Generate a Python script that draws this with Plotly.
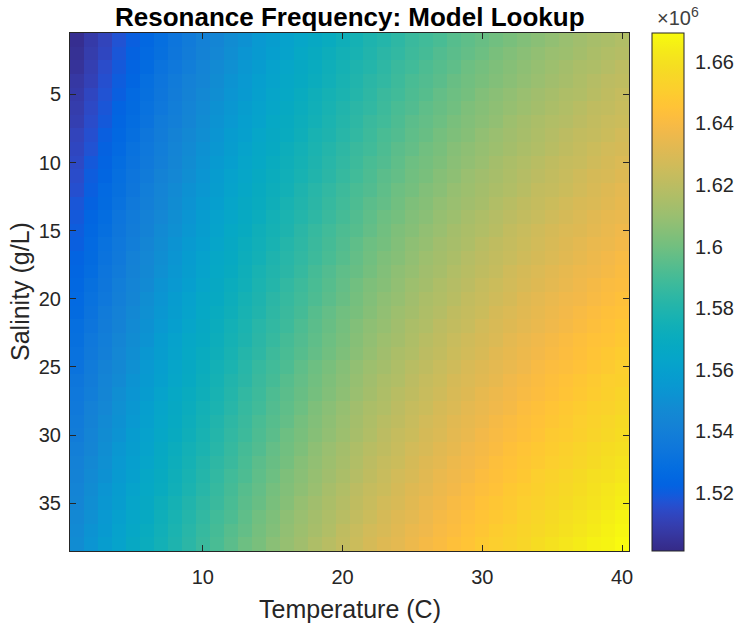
import numpy as np
import plotly.graph_objects as go

# ---------------- data ----------------
temperature_c = list(range(1, 41))          # columns
salinity_gL = list(range(1, 39))            # rows

# resonance frequency in kHz, one list per temperature column (salinity 1..38)
freq_khz_by_temp = [
    [1503,1504,1505,1507,1508,1509,1510,1512,1513,1514,1515,1516,1518,1519,1520,1521,1523,1524,1525,1526,1527,1529,1530,1531,1532,1534,1535,1536,1537,1538,1540,1541,1542,1543,1544,1546,1547,1548],
    [1508,1509,1510,1511,1513,1514,1515,1516,1517,1519,1520,1521,1522,1524,1525,1526,1527,1528,1530,1531,1532,1533,1535,1536,1537,1538,1539,1541,1542,1543,1544,1546,1547,1548,1549,1550,1552,1553],
    [1512,1513,1515,1516,1517,1518,1519,1521,1522,1523,1524,1526,1527,1528,1529,1531,1532,1533,1534,1535,1537,1538,1539,1540,1542,1543,1544,1545,1547,1548,1549,1550,1551,1553,1554,1555,1556,1558],
    [1517,1518,1519,1520,1521,1523,1524,1525,1526,1528,1529,1530,1531,1533,1534,1535,1536,1537,1539,1540,1541,1542,1544,1545,1546,1547,1549,1550,1551,1552,1554,1555,1556,1557,1558,1560,1561,1562],
    [1521,1522,1523,1524,1526,1527,1528,1529,1531,1532,1533,1534,1536,1537,1538,1539,1541,1542,1543,1544,1546,1547,1548,1549,1550,1552,1553,1554,1555,1557,1558,1559,1560,1562,1563,1564,1565,1567],
    [1525,1526,1527,1529,1530,1531,1532,1534,1535,1536,1537,1539,1540,1541,1542,1544,1545,1546,1547,1549,1550,1551,1552,1554,1555,1556,1557,1559,1560,1561,1562,1563,1565,1566,1567,1568,1570,1571],
    [1529,1530,1532,1533,1534,1535,1537,1538,1539,1540,1542,1543,1544,1545,1547,1548,1549,1550,1552,1553,1554,1555,1557,1558,1559,1560,1562,1563,1564,1565,1567,1568,1569,1570,1572,1573,1574,1575],
    [1533,1534,1535,1537,1538,1539,1540,1542,1543,1544,1545,1547,1548,1549,1550,1552,1553,1554,1555,1557,1558,1559,1561,1562,1563,1564,1566,1567,1568,1569,1571,1572,1573,1574,1576,1577,1578,1579],
    [1537,1538,1539,1541,1542,1543,1544,1546,1547,1548,1549,1551,1552,1553,1554,1556,1557,1558,1559,1561,1562,1563,1565,1566,1567,1568,1570,1571,1572,1573,1575,1576,1577,1578,1580,1581,1582,1583],
    [1541,1542,1543,1544,1546,1547,1548,1549,1551,1552,1553,1554,1556,1557,1558,1559,1561,1562,1563,1565,1566,1567,1568,1570,1571,1572,1573,1575,1576,1577,1578,1580,1581,1582,1584,1585,1586,1587],
    [1544,1545,1547,1548,1549,1551,1552,1553,1554,1556,1557,1558,1559,1561,1562,1563,1565,1566,1567,1568,1570,1571,1572,1573,1575,1576,1577,1578,1580,1581,1582,1584,1585,1586,1587,1589,1590,1591],
    [1548,1549,1550,1552,1553,1554,1555,1557,1558,1559,1561,1562,1563,1564,1566,1567,1568,1569,1571,1572,1573,1575,1576,1577,1578,1580,1581,1582,1584,1585,1586,1587,1589,1590,1591,1592,1594,1595],
    [1551,1553,1554,1555,1556,1558,1559,1560,1562,1563,1564,1565,1567,1568,1569,1571,1572,1573,1574,1576,1577,1578,1579,1581,1582,1583,1585,1586,1587,1588,1590,1591,1592,1594,1595,1596,1597,1599],
    [1555,1556,1557,1559,1560,1561,1562,1564,1565,1566,1568,1569,1570,1571,1573,1574,1575,1577,1578,1579,1580,1582,1583,1584,1586,1587,1588,1589,1591,1592,1593,1595,1596,1597,1598,1600,1601,1602],
    [1558,1559,1561,1562,1563,1564,1566,1567,1568,1570,1571,1572,1573,1575,1576,1577,1579,1580,1581,1583,1584,1585,1586,1588,1589,1590,1592,1593,1594,1595,1597,1598,1599,1601,1602,1603,1604,1606],
    [1561,1562,1564,1565,1566,1568,1569,1570,1572,1573,1574,1575,1577,1578,1579,1581,1582,1583,1585,1586,1587,1588,1590,1591,1592,1594,1595,1596,1597,1599,1600,1601,1603,1604,1605,1607,1608,1609],
    [1564,1566,1567,1568,1570,1571,1572,1573,1575,1576,1577,1579,1580,1581,1583,1584,1585,1586,1588,1589,1590,1592,1593,1594,1596,1597,1598,1599,1601,1602,1603,1605,1606,1607,1609,1610,1611,1612],
    [1567,1569,1570,1571,1573,1574,1575,1577,1578,1579,1580,1582,1583,1584,1586,1587,1588,1590,1591,1592,1594,1595,1596,1597,1599,1600,1601,1603,1604,1605,1607,1608,1609,1610,1612,1613,1614,1616],
    [1570,1572,1573,1574,1576,1577,1578,1579,1581,1582,1583,1585,1586,1587,1589,1590,1591,1593,1594,1595,1597,1598,1599,1600,1602,1603,1604,1606,1607,1608,1610,1611,1612,1614,1615,1616,1617,1619],
    [1573,1575,1576,1577,1578,1580,1581,1582,1584,1585,1586,1588,1589,1590,1592,1593,1594,1596,1597,1598,1600,1601,1602,1603,1605,1606,1607,1609,1610,1611,1613,1614,1615,1617,1618,1619,1621,1622],
    [1576,1577,1579,1580,1581,1583,1584,1585,1587,1588,1589,1591,1592,1593,1594,1596,1597,1598,1600,1601,1602,1604,1605,1606,1608,1609,1610,1612,1613,1614,1616,1617,1618,1620,1621,1622,1624,1625],
    [1579,1580,1581,1583,1584,1585,1587,1588,1589,1591,1592,1593,1595,1596,1597,1599,1600,1601,1603,1604,1605,1607,1608,1609,1611,1612,1613,1615,1616,1617,1619,1620,1621,1623,1624,1625,1627,1628],
    [1581,1583,1584,1585,1587,1588,1589,1591,1592,1593,1595,1596,1597,1599,1600,1601,1603,1604,1605,1607,1608,1609,1611,1612,1613,1615,1616,1617,1619,1620,1621,1623,1624,1625,1627,1628,1629,1631],
    [1584,1585,1587,1588,1589,1591,1592,1593,1595,1596,1597,1599,1600,1601,1603,1604,1605,1607,1608,1609,1611,1612,1613,1615,1616,1617,1619,1620,1621,1623,1624,1625,1627,1628,1629,1631,1632,1633],
    [1587,1588,1589,1591,1592,1593,1595,1596,1597,1599,1600,1601,1603,1604,1605,1607,1608,1609,1611,1612,1613,1615,1616,1617,1619,1620,1621,1623,1624,1625,1627,1628,1629,1631,1632,1633,1635,1636],
    [1589,1590,1592,1593,1594,1596,1597,1598,1600,1601,1602,1604,1605,1606,1608,1609,1611,1612,1613,1615,1616,1617,1619,1620,1621,1623,1624,1625,1627,1628,1629,1631,1632,1633,1635,1636,1637,1639],
    [1591,1593,1594,1595,1597,1598,1599,1601,1602,1603,1605,1606,1608,1609,1610,1612,1613,1614,1616,1617,1618,1620,1621,1622,1624,1625,1626,1628,1629,1630,1632,1633,1635,1636,1637,1639,1640,1641],
    [1594,1595,1596,1598,1599,1600,1602,1603,1605,1606,1607,1609,1610,1611,1613,1614,1615,1617,1618,1619,1621,1622,1624,1625,1626,1628,1629,1630,1632,1633,1634,1636,1637,1638,1640,1641,1642,1644],
    [1596,1597,1599,1600,1601,1603,1604,1605,1607,1608,1610,1611,1612,1614,1615,1616,1618,1619,1620,1622,1623,1624,1626,1627,1629,1630,1631,1633,1634,1635,1637,1638,1639,1641,1642,1644,1645,1646],
    [1598,1599,1601,1602,1604,1605,1606,1608,1609,1610,1612,1613,1614,1616,1617,1619,1620,1621,1623,1624,1625,1627,1628,1629,1631,1632,1634,1635,1636,1638,1639,1640,1642,1643,1645,1646,1647,1649],
    [1600,1602,1603,1604,1606,1607,1608,1610,1611,1613,1614,1615,1617,1618,1619,1621,1622,1623,1625,1626,1628,1629,1630,1632,1633,1634,1636,1637,1639,1640,1641,1643,1644,1645,1647,1648,1650,1651],
    [1602,1604,1605,1606,1608,1609,1611,1612,1613,1615,1616,1617,1619,1620,1622,1623,1624,1626,1627,1628,1630,1631,1633,1634,1635,1637,1638,1639,1641,1642,1644,1645,1646,1648,1649,1650,1652,1653],
    [1604,1606,1607,1608,1610,1611,1613,1614,1615,1617,1618,1619,1621,1622,1624,1625,1626,1628,1629,1631,1632,1633,1635,1636,1637,1639,1640,1642,1643,1644,1646,1647,1648,1650,1651,1653,1654,1655],
    [1606,1608,1609,1610,1612,1613,1615,1616,1617,1619,1620,1622,1623,1624,1626,1627,1628,1630,1631,1633,1634,1635,1637,1638,1640,1641,1642,1644,1645,1646,1648,1649,1651,1652,1653,1655,1656,1658],
    [1608,1610,1611,1612,1614,1615,1617,1618,1619,1621,1622,1623,1625,1626,1628,1629,1630,1632,1633,1635,1636,1637,1639,1640,1642,1643,1644,1646,1647,1649,1650,1651,1653,1654,1655,1657,1658,1660],
    [1610,1611,1613,1614,1616,1617,1618,1620,1621,1623,1624,1625,1627,1628,1630,1631,1632,1634,1635,1637,1638,1639,1641,1642,1643,1645,1646,1648,1649,1650,1652,1653,1655,1656,1657,1659,1660,1662],
    [1612,1613,1615,1616,1617,1619,1620,1622,1623,1624,1626,1627,1629,1630,1631,1633,1634,1636,1637,1638,1640,1641,1643,1644,1645,1647,1648,1650,1651,1652,1654,1655,1657,1658,1659,1661,1662,1664],
    [1614,1615,1616,1618,1619,1621,1622,1623,1625,1626,1628,1629,1630,1632,1633,1635,1636,1637,1639,1640,1642,1643,1645,1646,1647,1649,1650,1652,1653,1654,1656,1657,1659,1660,1661,1663,1664,1666],
    [1615,1617,1618,1620,1621,1622,1624,1625,1627,1628,1629,1631,1632,1634,1635,1636,1638,1639,1641,1642,1644,1645,1646,1648,1649,1651,1652,1653,1655,1656,1658,1659,1660,1662,1663,1665,1666,1667],
    [1617,1618,1620,1621,1623,1624,1625,1627,1628,1630,1631,1633,1634,1635,1637,1638,1640,1641,1642,1644,1645,1647,1648,1650,1651,1652,1654,1655,1657,1658,1659,1661,1662,1664,1665,1667,1668,1669],
]

cbar_tick_values = [1.52e6, 1.54e6, 1.56e6, 1.58e6, 1.60e6, 1.62e6, 1.64e6, 1.66e6]
cbar_tick_labels = ["1.52", "1.54", "1.56", "1.58", "1.6", "1.62", "1.64", "1.66"]
x_ticks = [10, 20, 30, 40]
y_ticks = [5, 10, 15, 20, 25, 30, 35]
color_min, color_max = 1.5011e6, 1.6694e6

assert len(freq_khz_by_temp) == len(temperature_c)
for col in freq_khz_by_temp:
    assert len(col) == len(salinity_gL), len(col)

# rows = salinity, columns = temperature, in Hz
z_hz = (np.array(freq_khz_by_temp, dtype=float).T * 1000.0)

# ---------------- style ----------------
parula = [
    [0.2081,0.1663,0.5292],[0.2116,0.1898,0.5777],[0.2123,0.2138,0.6270],[0.2081,0.2386,0.6771],
    [0.1959,0.2645,0.7279],[0.1707,0.2919,0.7792],[0.1253,0.3242,0.8303],[0.0591,0.3598,0.8683],
    [0.0117,0.3875,0.8820],[0.0060,0.4086,0.8828],[0.0165,0.4266,0.8786],[0.0329,0.4430,0.8720],
    [0.0498,0.4586,0.8641],[0.0629,0.4737,0.8554],[0.0723,0.4887,0.8467],[0.0779,0.5040,0.8384],
    [0.0793,0.5200,0.8312],[0.0749,0.5375,0.8263],[0.0641,0.5570,0.8240],[0.0488,0.5772,0.8228],
    [0.0343,0.5966,0.8199],[0.0265,0.6137,0.8135],[0.0239,0.6287,0.8038],[0.0231,0.6418,0.7913],
    [0.0228,0.6535,0.7768],[0.0267,0.6642,0.7607],[0.0384,0.6743,0.7436],[0.0590,0.6838,0.7254],
    [0.0843,0.6928,0.7062],[0.1133,0.7015,0.6859],[0.1453,0.7098,0.6646],[0.1801,0.7177,0.6424],
    [0.2178,0.7250,0.6193],[0.2586,0.7317,0.5954],[0.3022,0.7376,0.5712],[0.3482,0.7424,0.5473],
    [0.3953,0.7459,0.5244],[0.4420,0.7481,0.5033],[0.4871,0.7491,0.4840],[0.5300,0.7491,0.4661],
    [0.5709,0.7485,0.4494],[0.6099,0.7473,0.4337],[0.6473,0.7456,0.4188],[0.6834,0.7435,0.4044],
    [0.7184,0.7411,0.3905],[0.7525,0.7384,0.3768],[0.7858,0.7356,0.3633],[0.8185,0.7327,0.3498],
    [0.8507,0.7299,0.3360],[0.8824,0.7274,0.3217],[0.9139,0.7258,0.3063],[0.9450,0.7261,0.2886],
    [0.9739,0.7314,0.2666],[0.9938,0.7455,0.2403],[0.9990,0.7653,0.2164],[0.9955,0.7861,0.1967],
    [0.9880,0.8066,0.1794],[0.9789,0.8271,0.1633],[0.9697,0.8481,0.1475],[0.9626,0.8705,0.1309],
    [0.9589,0.8949,0.1132],[0.9598,0.9218,0.0948],[0.9661,0.9514,0.0755],[0.9763,0.9831,0.0538],
]
n = len(parula)
colorscale = [[i / (n - 1), "rgb(%d,%d,%d)" % tuple(round(c * 255) for c in rgb)]
              for i, rgb in enumerate(parula)]

TXT = "#262626"
FONT = "Liberation Sans, Arial, sans-serif"

W, H = 736, 626
ML, MR, MT, MB = 70, 107, 33, 75
plot_w = W - ML - MR
CB_X = 1.041            # colorbar left edge, paper units
CB_THICK = 32           # px
cb_right = CB_X + CB_THICK / plot_w

fig = go.Figure(go.Heatmap(
    x=temperature_c, y=salinity_gL, z=z_hz,
    colorscale=colorscale, zmin=color_min, zmax=color_max,
    colorbar=dict(
        x=CB_X, xanchor="left", xref="paper",
        y=0.5, yanchor="middle", len=1.0, lenmode="fraction",
        thickness=CB_THICK, thicknessmode="pixels",
        outlinewidth=1, outlinecolor=TXT,
        tickvals=cbar_tick_values, ticktext=cbar_tick_labels,
        ticks="outside", ticklen=7, tickcolor="rgba(0,0,0,0)",
        tickfont=dict(size=20, color=TXT, family=FONT),
        ypad=0, xpad=0,
    ),
    hovertemplate="T=%{x} C<br>S=%{y} g/L<br>f=%{z:.4s}Hz<extra></extra>",
))

fig.update_xaxes(
    range=[0.5, 40.5], tickvals=x_ticks, ticks="inside", ticklen=6,
    tickcolor=TXT, showline=True, linecolor=TXT, linewidth=1, mirror="ticks",
    showgrid=False, zeroline=False, automargin=False, ticklabelstandoff=8,
    tickfont=dict(size=20, color=TXT, family=FONT),
)
fig.update_yaxes(
    range=[38.5, 0.5], tickvals=y_ticks, ticks="inside", ticklen=6,
    tickcolor=TXT, showline=True, linecolor=TXT, linewidth=1, mirror="ticks",
    showgrid=False, zeroline=False, automargin=False, ticklabelstandoff=4,
    tickfont=dict(size=20, color=TXT, family=FONT),
)

# inward tick marks on the right side of the colour bar
shapes = []
for v in cbar_tick_values:
    yp = (v - color_min) / (color_max - color_min)
    shapes.append(dict(type="line", xref="paper", yref="paper",
                       xsizemode="pixel", xanchor=cb_right, x0=-5, x1=0,
                       y0=yp, y1=yp, line=dict(color=TXT, width=1)))

fig.update_layout(
    width=W, height=H,
    margin=dict(l=ML, r=MR, t=MT, b=MB, autoexpand=False),
    paper_bgcolor="white", plot_bgcolor="white",
    font=dict(family=FONT, color=TXT),
    shapes=shapes,
    annotations=[
        dict(text="<b>Resonance Frequency: Model Lookup</b>", xref="paper", yref="paper",
             x=0.5, y=1.0, xanchor="center", yanchor="bottom", yshift=-1, showarrow=False,
             font=dict(size=26, color="black", family=FONT)),
        dict(text="\u00d710<sup>6</sup>", xref="paper", yref="paper",
             x=CB_X, y=1.0, xanchor="left", yanchor="bottom", xshift=3, yshift=2,
             showarrow=False, font=dict(size=20, color="#404040", family=FONT)),
        dict(text="Temperature (C)", xref="paper", yref="paper",
             x=0.5, y=0.0, xanchor="center", yanchor="top", yshift=-42,
             showarrow=False, font=dict(size=25, color=TXT, family=FONT)),
        dict(text="Salinity (g/L)", xref="paper", yref="paper", textangle=-90,
             x=0.0, y=0.5, xanchor="center", yanchor="middle", xshift=-50,
             showarrow=False, font=dict(size=25, color=TXT, family=FONT)),
    ],
)

fig.write_html(
    "out.html",
    config={"displayModeBar": False},
    post_script="document.body.style.margin='0px';document.body.style.overflow='hidden';",
)
